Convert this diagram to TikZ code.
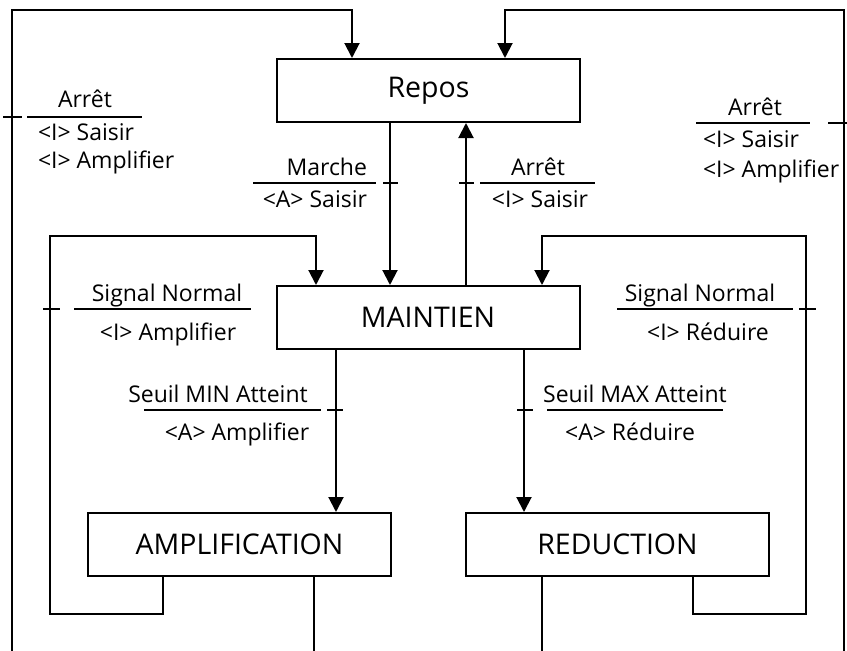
\documentclass[tikz,border=0pt]{standalone}
\usepackage{fontspec}
\setmainfont{Open Sans}
\usepackage{tikz}
\usetikzlibrary{arrows.meta,positioning,calc}

\begin{document}
\begin{tikzpicture}[x=1pt,y=-1pt,>={Triangle[width=15pt,length=15pt]},line width=2pt,
  etat/.style={draw,minimum width=303pt,minimum height=63pt,inner sep=0pt,
    font=\fontsize{28.5}{32}\selectfont},
  txt/.style={inner sep=0pt,font=\fontsize{23}{27}\selectfont}]
  \useasboundingbox (0,0) rectangle (847,651);

  % Etats
  \node[etat] (repos) at (428.5,90.5) {Repos};
  \node[etat] (maintien) at (428,317.5) {MAINTIEN};
  \node[etat] (ampli) at (239.5,544.5) {AMPLIFICATION};
  \node[etat] (reduc) at (617.5,544.5) {REDUCTION};

  % Retours vers Repos (cadre exterieur)
  \coordinate (gB) at (12,651);  \coordinate (gH) at (352,10);
  \coordinate (dB) at (844,651); \coordinate (dH) at (505,10);
  \draw[->] (gB) |- (gH) -- (gH |- repos.north);
  \draw[->] (dB) |- (dH) -- (dH |- repos.north);

  % Repos <-> Maintien
  \path ([xshift=-38.5pt]repos.south) coordinate (rm);
  \path ([xshift=37.5pt]repos.south) coordinate (mr);
  \draw[->] (rm) -- (rm |- maintien.north);
  \draw[->] (mr |- maintien.north) -- (mr);

  % Boucles Signal Normal
  \coordinate (bg) at (50,614);  \coordinate (hg) at (316,236);
  \coordinate (bd) at (806,614); \coordinate (hd) at (542,236);
  \draw[->] ([xshift=-76.5pt]ampli.south) |- (bg) |- (hg) -- (hg |- maintien.north);
  \draw[->] ([xshift=75.5pt]reduc.south) |- (bd) |- (hd) -- (hd |- maintien.north);

  % Maintien -> Amplification / Reduction
  \path ([xshift=-92pt]maintien.south) coordinate (ma);
  \path ([xshift=96pt]maintien.south) coordinate (md);
  \draw[->] (ma) -- (ma |- ampli.north);
  \draw[->] (md) -- (md |- reduc.north);

  % Sorties
  \coordinate (sa) at (314,651); \coordinate (sd) at (542,651);
  \draw (ampli.south -| sa) -- (sa);
  \draw (reduc.south -| sd) -- (sd);

  % Receptivites : traits de franchissement
  \draw (3,117) -- (22,117);
  \draw (828,123) -- (852,123);
  \draw (383,183) -- (398,183);
  \draw (459,183) -- (474,183);
  \draw (43,309) -- (60,309);
  \draw (799,309) -- (816,309);
  \draw (327,410) -- (343,410);
  \draw (517,410) -- (533,410);

  % Receptivites : barres
  \draw (27,117) -- (142,117);
  \draw (696,123) -- (810,123);
  \draw (253,183) -- (376,183);
  \draw (480,183) -- (595,183);
  \draw (74,309) -- (251,309);
  \draw (617,309) -- (793,309);
  \draw (144,410) -- (321,410);
  \draw (547,410) -- (723,410);

  % Textes
  \node[txt,anchor=base] (arretG) at (85,107) {Arrêt};
  \node[txt,anchor=base west] (saisirG) at (37,140) {<I> Saisir};
  \node[txt,anchor=base west] (amplG) at (37,168) {<I> Amplifier};

  \node[txt,anchor=base] (arretD) at (755,115) {Arrêt};
  \node[txt,anchor=base west] (saisirD) at (702,147) {<I> Saisir};
  \node[txt,anchor=base west] (amplD) at (702,177) {<I> Amplifier};

  \node[txt,anchor=base east] (marche) at (368,175) {Marche};
  \node[txt,anchor=base east] (saisirA) at (368,207) {<A> Saisir};
  \node[txt,anchor=base] (arretM) at (538,175) {Arrêt};
  \node[txt,anchor=base] (saisirI) at (540,207) {<I> Saisir};

  \node[txt,anchor=base] (normG) at (167,301) {Signal Normal};
  \node[txt,anchor=base] (amplI) at (168,340) {<I> Amplifier};
  \node[txt,anchor=base] (normD) at (700,301) {Signal Normal};
  \node[txt,anchor=base] (reducI) at (708,340) {<I> Réduire};

  \node[txt,anchor=base] (seuilMin) at (218,402) {Seuil MIN Atteint};
  \node[txt,anchor=base] (amplA) at (237,440) {<A> Amplifier};
  \node[txt,anchor=base] (seuilMax) at (635,402) {Seuil MAX Atteint};
  \node[txt,anchor=base] (reducA) at (630,440) {<A> Réduire};
\end{tikzpicture}
\end{document}
